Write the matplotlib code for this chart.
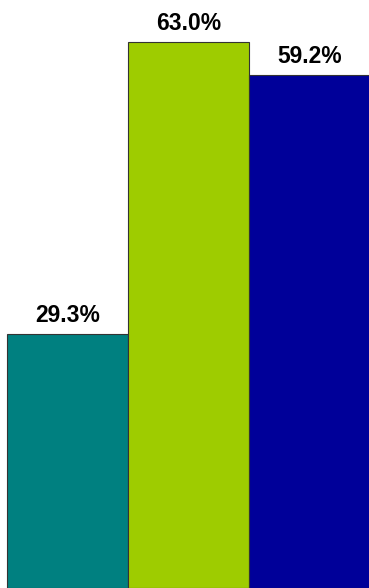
import matplotlib.pyplot as plt

categories = ["A", "B", "C"]
values = [29.3, 63.0, 59.2]
labels = ["29.3%", "63.0%", "59.2%"]
colors = ["#008080", "#9ECC00", "#000099"]

fig = plt.figure(figsize=(3.69, 5.88), dpi=100, facecolor="white")
ax = fig.add_axes([0, 0, 1, 1])

positions = range(len(categories))
bars = ax.bar(positions, values, width=1.0, color=colors,
              edgecolor="#333333", linewidth=0.8)

for bar, text in zip(bars, labels):
    ax.annotate(
        text,
        (bar.get_x() + bar.get_width() / 2, bar.get_height()),
        xytext=(0, 5),
        textcoords="offset points",
        ha="center",
        va="bottom",
        fontsize=16.5,
        fontweight="bold",
        family="Liberation Sans",
    )

ax.set_xlim(-0.56, 2.489)
ax.set_ylim(0, 67.85)
for side in ["top", "right", "left", "bottom"]:
    ax.spines[side].set_visible(False)
ax.set_xticks([])
ax.set_yticks([])

plt.savefig("out.png", dpi=100, facecolor="white")
plt.close()
